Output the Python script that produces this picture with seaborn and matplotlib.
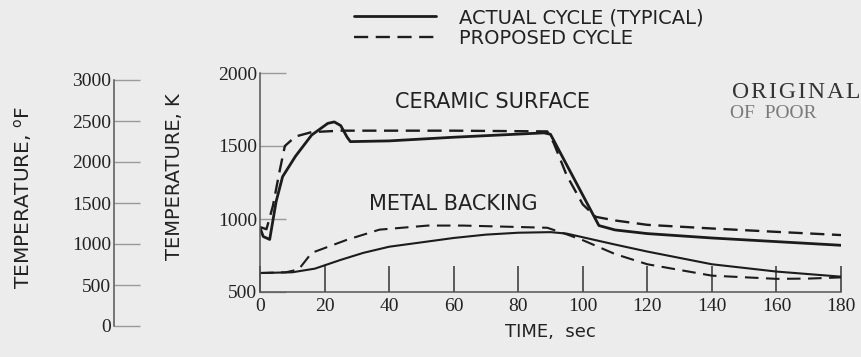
import numpy as np
import pandas as pd
import seaborn as sns
import matplotlib.pyplot as plt

# ----------------------------
# 1. DATA
# ----------------------------
ceramic_actual_t = [0, 1, 3, 5, 7, 11, 16, 21, 23, 25, 27, 28, 40, 60, 88, 90, 105, 110, 120, 140, 160, 180]
ceramic_actual_k = [940, 880, 860, 1120, 1290, 1430, 1575, 1655, 1665, 1640, 1560, 1530, 1535, 1560, 1590, 1580, 955, 925, 900, 870, 845, 820]

ceramic_prop_t = [0, 2, 4, 6, 7.7, 11, 16, 25, 60, 89, 91, 95, 100, 104, 110, 120, 140, 160, 180]
ceramic_prop_k = [945, 930, 1090, 1320, 1500, 1565, 1595, 1605, 1605, 1600, 1520, 1300, 1100, 1015, 990, 960, 935, 912, 890]

metal_actual_t = [0, 10, 17, 25, 32, 40, 52, 60, 70, 80, 90, 95, 100, 110, 120, 140, 160, 180]
metal_actual_k = [630, 635, 660, 720, 768, 810, 846, 870, 893, 906, 910, 900, 875, 825, 777, 690, 640, 605]

metal_prop_t = [0, 8, 12, 16, 27, 37, 52, 63, 89, 95, 100, 110, 120, 140, 160, 170, 180]
metal_prop_k = [630, 635, 655, 768, 858, 927, 955, 955, 940, 895, 855, 760, 690, 612, 590, 592, 600]

time_ticks = [0, 20, 40, 60, 80, 100, 120, 140, 160, 180]
kelvin_ticks = [500, 1000, 1500, 2000]
fahr_ticks = [0, 500, 1000, 1500, 2000, 2500, 3000]

legend_labels = ["ACTUAL CYCLE (TYPICAL)", "PROPOSED CYCLE"]

# ----------------------------
# 2. STYLE
# ----------------------------
sns.set_style("white")
sans = ["DejaVu Sans"]
serif = ["Liberation Serif", "DejaVu Serif"]
bg = "#ececec"
ink = "#1c1c1c"
txt = "#222222"

fig = plt.figure(figsize=(8.62, 3.57), dpi=100, facecolor=bg)
W, H = 862, 357

# ----------------------------
# 3. MAIN (KELVIN) AXES
# ----------------------------
ax = fig.add_axes([260 / W, 1 - 292 / H, 581 / W, (292 - 73) / H])
ax.set_facecolor("none")

series = [
    (ceramic_actual_t, ceramic_actual_k, "-", 2.0, legend_labels[0]),
    (ceramic_prop_t, ceramic_prop_k, (0, (6.0, 3.2)), 1.7, legend_labels[1]),
    (metal_actual_t, metal_actual_k, "-", 1.5, None),
    (metal_prop_t, metal_prop_k, (0, (6.5, 3.6)), 1.5, None),
]
for t, k, ls, lw, lab in series:
    df = pd.DataFrame({"t": t, "k": k})
    sns.lineplot(data=df, x="t", y="k", ax=ax, color=ink, linestyle=ls,
                 linewidth=lw, label=lab, sort=False, legend=False)

ax.set_xlim(0, 180)
ax.set_ylim(500, 2000)
ax.set_xticks(time_ticks)
ax.set_yticks(kelvin_ticks)
ax.set_xticklabels([str(v) for v in time_ticks], fontfamily=serif, fontsize=14, color=txt)
ax.set_yticklabels([str(v) for v in kelvin_ticks], fontfamily=serif, fontsize=14, color=txt)
ax.tick_params(axis="x", bottom=True, direction="in", length=19, width=1.1, color="#333333", pad=4)
ax.tick_params(axis="y", left=True, direction="in", length=19, width=1.0, color="#9a9a9a", pad=2)
for s in ["top", "right"]:
    ax.spines[s].set_visible(False)
for s in ["left", "bottom"]:
    ax.spines[s].set_color("#555555")
    ax.spines[s].set_linewidth(1.1)
ax.set_xlabel("TIME,  sec", fontfamily=sans, fontsize=13, color=txt, labelpad=6)
ax.set_ylabel("")

# ----------------------------
# 4. FAHRENHEIT SCALE
# ----------------------------
axf = fig.add_axes([114 / W, 1 - 326 / H, 0.05, (326 - 80) / H])
axf.set_facecolor("none")
axf.set_ylim(0, 3000)
axf.set_yticks(fahr_ticks)
axf.set_yticklabels([str(v) for v in fahr_ticks], fontfamily=serif, fontsize=14, color=txt)
axf.tick_params(axis="y", left=True, direction="in", length=19, width=1.0, color="#9a9a9a", pad=2)
axf.get_xaxis().set_visible(False)
for s in ["top", "right", "bottom"]:
    axf.spines[s].set_visible(False)
axf.spines["left"].set_color("#555555")
axf.spines["left"].set_linewidth(1.1)

# axis titles
fig.text(23 / W, 1 - 198 / H, "TEMPERATURE, $^{\\mathrm{o}}$F", rotation=90, ha="center", va="center",
         fontfamily=sans, fontsize=14.5, color=txt)
fig.text(175 / W, 1 - 177 / H, "TEMPERATURE, K", rotation=90, ha="center", va="center",
         fontfamily=sans, fontsize=14, color=txt)

# curve annotations
ax.text(72, 1800, "CERAMIC SURFACE", ha="center", va="center", fontfamily=sans, fontsize=15, color=txt)
ax.text(60, 1100, "METAL BACKING", ha="center", va="center", fontfamily=sans, fontsize=15, color=txt)

# stamp text from the scan
hs = "\u200a"
fig.text(732 / W, 1 - 92 / H, hs.join("ORIGINAL"), ha="left", va="center",
         fontfamily=serif, fontsize=17, color="#333333")
fig.text(730 / W, 1 - 114 / H, "OF  POOR", ha="left", va="center",
         fontfamily=serif, fontsize=14, color="#7a7a7a")

# ----------------------------
# 5. LEGEND
# ----------------------------
handles, labels = ax.get_legend_handles_labels()
fig.legend(handles[:2], labels[:2], loc="upper left", bbox_to_anchor=(354 / W, 1 - 8 / H),
           frameon=False, prop={"family": sans, "size": 14}, handlelength=4.2,
           handletextpad=1.2, labelspacing=0.1, borderpad=0, borderaxespad=0, labelcolor=txt)

fig.savefig("out.png", dpi=100, facecolor=bg)
